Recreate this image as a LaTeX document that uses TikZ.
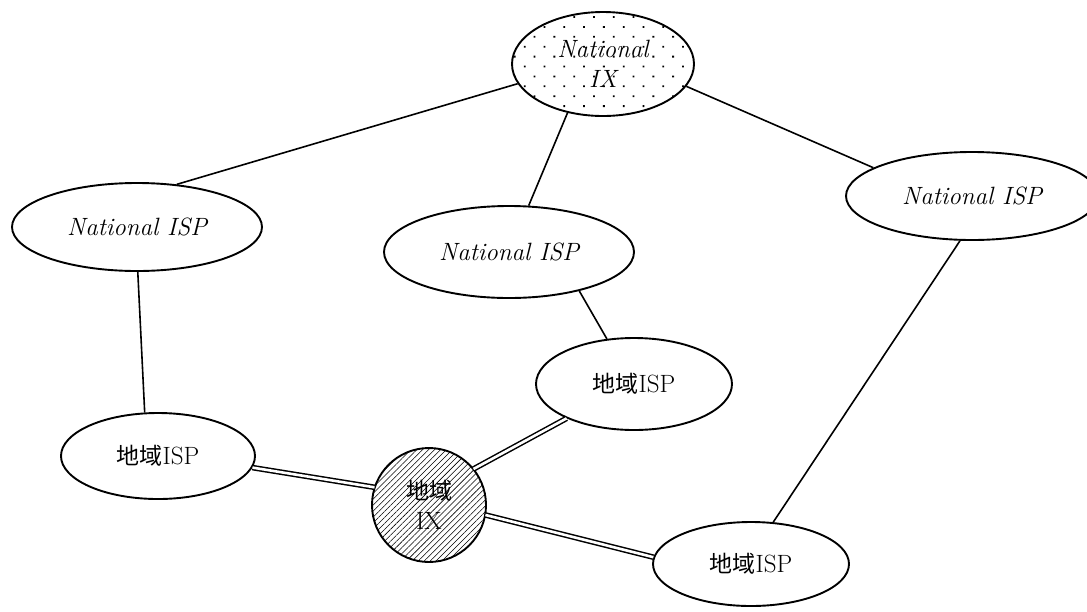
\documentclass[tikz,border=0pt]{standalone}
\usepackage{fontspec}
\newfontfamily\cjk[Scale=0.92]{Noto Sans CJK JP}
\usetikzlibrary{shapes.geometric,patterns.meta}
\begin{document}
\begin{tikzpicture}[x=1pt,y=-1pt,
  ovalbox/.style={ellipse, draw, line width=1.9pt, inner sep=0pt, fill=white,
    align=center, font=\fontsize{25}{30}\selectfont},
  natbox/.style={ovalbox, font=\fontsize{25}{30}\selectfont\itshape},
  link/.style={line width=1.6pt},
  dlink/.style={line width=1.5pt, double, double distance=2.6pt},
]
\useasboundingbox (0,0) rectangle (1087,611);

% nodes
\node[natbox, minimum width=182pt, minimum height=104pt,
      pattern={Dots[distance=14pt, angle=45, radius=1.3pt]}] (nix) at (603,64) {National\\IX};
\node[natbox, minimum width=250pt, minimum height=88pt] (nl) at (137,227) {National ISP};
\node[natbox, minimum width=250pt, minimum height=92pt] (nm) at (509,252) {National ISP};
\node[natbox, minimum width=252pt, minimum height=88pt] (nr) at (972,196) {National ISP};
\node[ovalbox, minimum width=194pt, minimum height=86pt] (rl) at (158,456) {{\cjk 地域}ISP};
\node[ovalbox, minimum width=196pt, minimum height=92pt] (rm) at (634,384) {{\cjk 地域}ISP};
\node[ovalbox, minimum width=196pt, minimum height=84pt] (rb) at (751,564) {{\cjk 地域}ISP};
\node[circle, draw, line width=1.9pt, inner sep=0pt, minimum size=114pt, align=center,
      font=\fontsize{25}{30}\selectfont,
      pattern={Lines[angle=45, distance=4.2pt, line width=0.55pt]}] (rix) at (429,505) {{\cjk 地域}\\IX};

% single links
\draw[link] (nix.193) -- (nl.47);
\draw[link] (nix.234) -- (nm.67);
\draw[link] (nix.345) -- (nr.164);
\draw[link] (nl.271) -- (rl.107);
\draw[link] (nm.331) -- (rm.121);
\draw[link] (nr.255) -- (rb.62);

% double links
\draw[dlink] (rl.353) -- (rix.162);
\draw[dlink] (rix.39) -- (rm.207);
\draw[dlink] (rix.350) -- (rb.176);
\end{tikzpicture}
\end{document}
